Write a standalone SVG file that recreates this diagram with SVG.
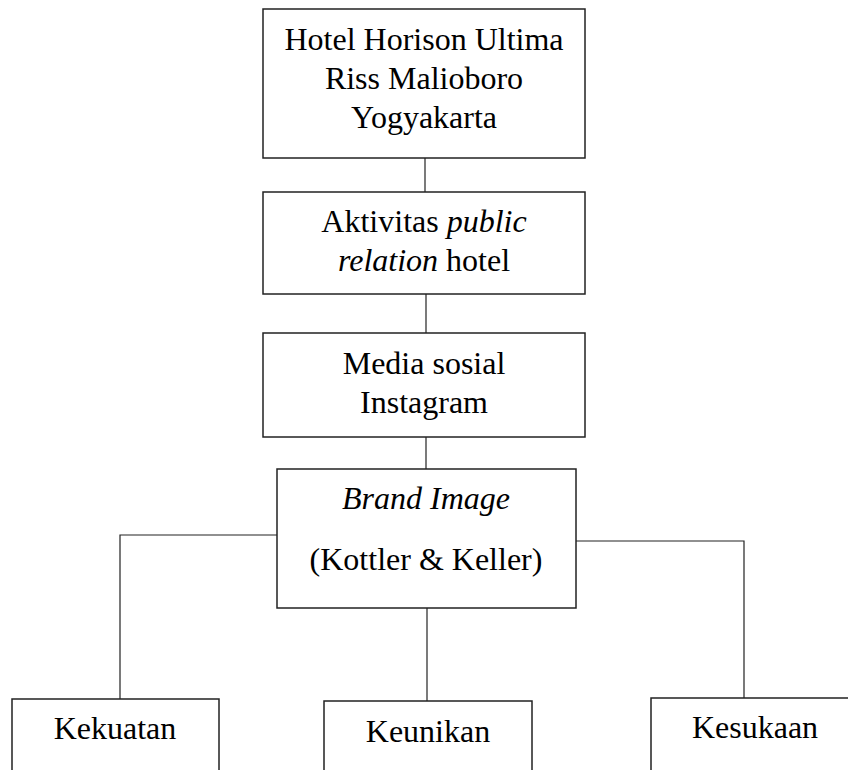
<svg xmlns="http://www.w3.org/2000/svg" width="848" height="770" viewBox="0 0 848 770">
<style>
.box{fill:#fff;stroke:#222;stroke-width:1.5}
.ln{fill:none;stroke:#222;stroke-width:1.2}
text{font-family:"Liberation Serif","Times New Roman",serif;font-size:32px;fill:#000;text-anchor:middle}
.i{font-style:italic}
</style>
<rect width="848" height="770" fill="#fff"/>
<g id="connectors">
<line class="ln" x1="425" y1="158" x2="425" y2="192"/>
<line class="ln" x1="426" y1="294" x2="426" y2="333"/>
<line class="ln" x1="426" y1="437" x2="426" y2="469"/>
<polyline class="ln" points="277,535 120,535 120,699"/>
<polyline class="ln" points="576,541 744,541 744,699"/>
<line class="ln" x1="427" y1="608" x2="427" y2="701"/>
</g>
<g id="n1"><rect class="box" x="263" y="9" width="322" height="149"/>
<text x="424" y="50">Hotel Horison Ultima</text>
<text x="424" y="89">Riss Malioboro</text>
<text x="424" y="128">Yogyakarta</text></g>
<g id="n2"><rect class="box" x="263" y="192" width="322" height="102"/>
<text x="424" y="232">Aktivitas <tspan class="i">public</tspan></text>
<text x="424" y="271"><tspan class="i">relation</tspan> hotel</text></g>
<g id="n3"><rect class="box" x="263" y="333" width="322" height="104"/>
<text x="424" y="374">Media sosial</text>
<text x="424" y="413">Instagram</text></g>
<g id="n4"><rect class="box" x="277" y="469" width="299" height="139"/>
<text class="i" x="426" y="509">Brand Image</text>
<text x="426" y="570">(Kottler &amp; Keller)</text></g>
<g id="n5"><rect class="box" x="12" y="699" width="207" height="80"/>
<text x="115" y="739">Kekuatan</text></g>
<g id="n6"><rect class="box" x="324" y="701" width="208" height="80"/>
<text x="428" y="742">Keunikan</text></g>
<g id="n7"><rect class="box" x="651" y="698" width="210" height="80"/>
<text x="755" y="738">Kesukaan</text></g>
</svg>
